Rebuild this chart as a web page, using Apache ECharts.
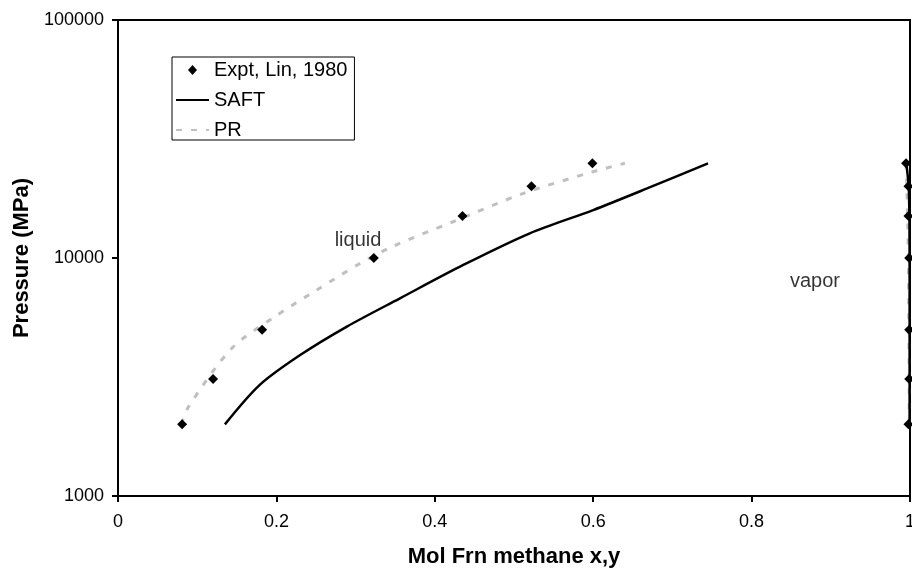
<!DOCTYPE html>
<html>
<head>
<meta charset="utf-8">
<script src="https://cdn.jsdelivr.net/npm/echarts@6/dist/echarts.min.js"></script>
<style>
  html, body { margin: 0; padding: 0; background: #fff; }
  #chart { width: 912px; height: 574px; }
</style>
</head>
<body>
<div id="chart"></div>
<script>
// Experimental data (Lin, 1980): pressures and liquid / vapor methane fractions
var exptP = [2000, 3100, 5000, 10000, 15000, 20000, 25000];
var exptLiqX = [0.081, 0.120, 0.182, 0.323, 0.435, 0.522, 0.599];
var exptVapY = [0.998, 0.999, 0.999, 0.999, 0.998, 0.998, 0.995];

// SAFT liquid branch
var saftLiqX = [0.135, 0.179, 0.230, 0.289, 0.356, 0.436, 0.520, 0.600, 0.668, 0.745];
var saftLiqP = [2000, 2930, 3910, 5150, 6770, 9350, 12700, 15900, 19600, 25000];
// SAFT vapor branch
var saftVapY = [0.9995, 0.9995, 0.9995, 0.9995, 0.9993, 0.9985, 0.9955];
var saftVapP = [2000, 3100, 5000, 10000, 15000, 20000, 25000];

// Peng-Robinson liquid branch
var prLiqX = [0.080, 0.089, 0.1435, 0.198, 0.251, 0.306, 0.346, 0.423, 0.512, 0.600, 0.640];
var prLiqP = [2000, 2370, 4170, 5670, 7340, 9500, 11150, 14200, 18700, 23050, 25000];
// Peng-Robinson vapor branch
var prVapY = [0.9990, 0.9990, 0.9985, 0.9980, 0.9970, 0.9960, 0.9950];
var prVapP = [2000, 3100, 5000, 10000, 15000, 20000, 25000];

// Phase labels
var phaseNames = ['liquid', 'vapor'];
var phaseX = [0.303, 0.880];
var phaseP = [11900, 8000];

// Axis ticks
var xTicks = [0, 0.2, 0.4, 0.6, 0.8, 1];
var yTicks = [1000, 10000, 100000];

function pairs(xs, ys) {
  return xs.map(function (x, i) { return [x, ys[i]]; });
}

var FONT = '"Liberation Sans", Arial, sans-serif';
var chart = echarts.init(document.getElementById('chart'), null, { renderer: 'canvas' });

var prStyle = { color: '#c0c0c0', width: 3, type: [6, 9] };
var saftStyle = { color: '#000000', width: 2.5, type: 'solid' };
var hiddenMarker = { color: 'rgba(0,0,0,0)', opacity: 0, borderWidth: 0 };

chart.setOption({
  animation: false,
  backgroundColor: '#ffffff',
  grid: {
    left: 118, right: 2, top: 20, bottom: 78,
    outerBoundsMode: 'none', containLabel: false,
    show: true, borderColor: '#000', borderWidth: 2, backgroundColor: 'transparent'
  },
  legend: {
    data: [
      // small diamond centred in a 33x10 icon box
      { name: 'Expt, Lin, 1980', icon: 'path://M0,0M33,10M12,5L16.5,0L21,5L16.5,10Z', itemStyle: { color: '#000', opacity: 1 } },
      { name: 'SAFT', itemStyle: hiddenMarker },
      { name: 'PR', itemStyle: hiddenMarker }
    ],
    orient: 'vertical',
    left: 172, top: 57,
    padding: [3, 7, 0, 3],
    itemWidth: 33, itemHeight: 10, itemGap: 10,
    borderColor: '#000', borderWidth: 1,
    textStyle: { fontFamily: FONT, fontSize: 20, color: '#000', lineHeight: 20 },
    selectedMode: false
  },
  xAxis: {
    type: 'value',
    min: 0, max: 1, interval: 0.2,
    name: 'Mol Frn methane x,y',
    nameLocation: 'middle', nameGap: 50,
    nameTextStyle: { fontFamily: FONT, fontSize: 22, fontWeight: 'bold', color: '#000' },
    axisLine: { lineStyle: { color: '#000', width: 2 } },
    axisTick: { show: true, length: 6, lineStyle: { color: '#000', width: 2 } },
    axisLabel: {
      fontFamily: FONT, fontSize: 18, color: '#000', margin: 17,
      formatter: function (v) {
        var r = Math.round(v * 10) / 10;
        return xTicks.indexOf(r) >= 0 ? String(r) : '';
      }
    },
    splitLine: { show: false }
  },
  yAxis: {
    type: 'log', logBase: 10,
    min: yTicks[0], max: yTicks[yTicks.length - 1],
    name: 'Pressure (MPa)',
    nameLocation: 'middle', nameGap: 85, nameRotate: 90,
    nameTextStyle: { fontFamily: FONT, fontSize: 22, fontWeight: 'bold', color: '#000' },
    axisLine: { show: true, lineStyle: { color: '#000', width: 2 } },
    axisTick: { show: true, length: 6, lineStyle: { color: '#000', width: 2 } },
    axisLabel: {
      fontFamily: FONT, fontSize: 18, color: '#000', margin: 14,
      formatter: function (v) { return String(Math.round(v)); }
    },
    splitLine: { show: false },
    minorTick: { show: false }
  },
  series: [
    {
      name: 'PR', type: 'line', data: pairs(prLiqX, prLiqP),
      showSymbol: false, symbol: 'none', smooth: 0.3,
      lineStyle: prStyle, itemStyle: { color: '#c0c0c0' }, z: 2
    },
    {
      name: 'PR', type: 'line', data: pairs(prVapY, prVapP),
      showSymbol: false, symbol: 'none',
      lineStyle: prStyle, itemStyle: { color: '#c0c0c0' }, z: 2
    },
    {
      name: 'SAFT', type: 'line', data: pairs(saftLiqX, saftLiqP),
      showSymbol: false, symbol: 'none', smooth: 0.3,
      lineStyle: saftStyle, itemStyle: { color: '#000' }, z: 3
    },
    {
      name: 'SAFT', type: 'line', data: pairs(saftVapY, saftVapP),
      showSymbol: false, symbol: 'none',
      lineStyle: saftStyle, itemStyle: { color: '#000' }, z: 3
    },
    {
      name: 'Expt, Lin, 1980', type: 'scatter', data: pairs(exptLiqX, exptP),
      symbol: 'diamond', symbolSize: 10, itemStyle: { color: '#000', opacity: 1 }, z: 4
    },
    {
      name: 'Expt, Lin, 1980', type: 'scatter', data: pairs(exptVapY, exptP),
      symbol: 'diamond', symbolSize: 10, itemStyle: { color: '#000', opacity: 1 }, z: 4
    },
    {
      name: 'phase', type: 'scatter',
      data: phaseNames.map(function (n, i) { return { name: n, value: [phaseX[i], phaseP[i]] }; }),
      symbolSize: 0, silent: true, z: 5,
      label: {
        show: true, position: 'inside',
        formatter: function (p) { return p.name; },
        fontFamily: FONT, fontSize: 20, color: '#000'
      }
    }
  ]
});
</script>
</body>
</html>
